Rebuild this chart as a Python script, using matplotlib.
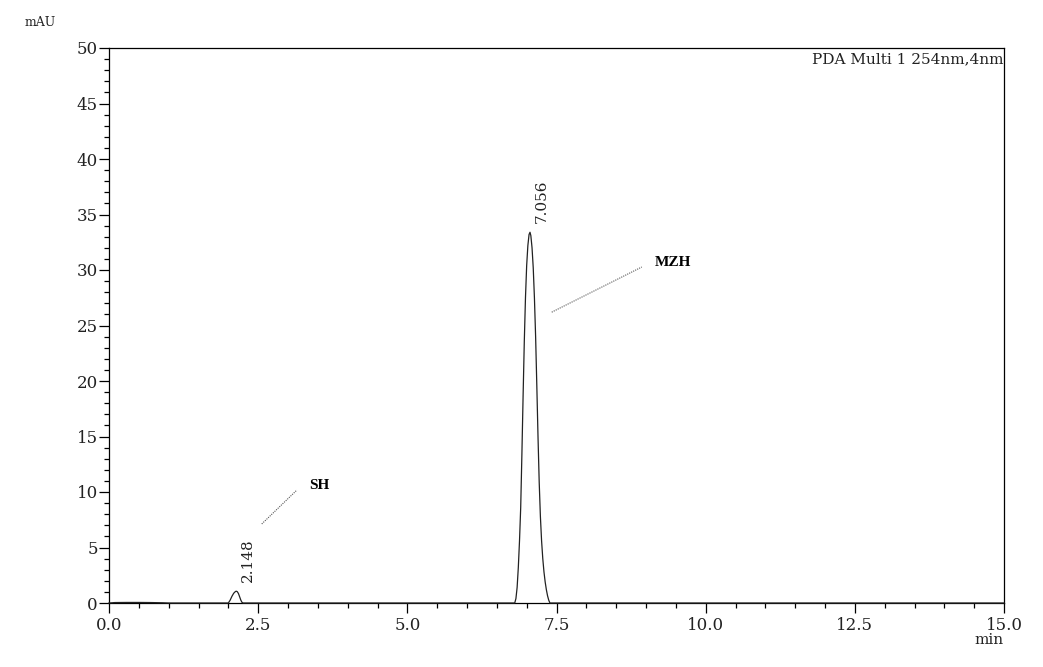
"""HPLC chromatogram (PDA Multi 1 254nm,4nm) with SH and MZH peaks."""
import matplotlib
matplotlib.use("Agg")
import matplotlib.pyplot as plt
from matplotlib.ticker import MultipleLocator, FormatStrFormatter

# trace: retention time (min) vs absorbance (mAU)
TIME = [
    0.0, 0.1, 0.3, 0.5, 0.7, 0.9, 1.0, 2.0,
    2.03, 2.06, 2.09, 2.12, 2.135, 2.15, 2.17, 2.19, 2.21, 2.23, 2.25,
    6.80, 6.82, 6.84, 6.86, 6.88, 6.90, 6.92, 6.94, 6.96, 6.98, 7.00,
    7.02, 7.04, 7.056, 7.07, 7.09, 7.11, 7.13, 7.15, 7.17, 7.19, 7.21,
    7.23, 7.25, 7.27, 7.29, 7.31, 7.33, 7.35, 7.37, 7.39, 15.0,
]
SIGNAL = [
    0.0, 0.04, 0.05, 0.05, 0.04, 0.02, 0.0, 0.0,
    0.25, 0.60, 0.88, 1.04, 1.06, 1.02, 0.85, 0.55, 0.25, 0.05, 0.0,
    0.0, 0.4, 1.4, 3.2, 5.6, 8.6, 13.4, 18.6, 23.5, 27.5, 30.4,
    32.2, 33.2, 33.4, 33.1, 32.0, 30.2, 27.5, 24.0, 19.6, 15.0, 10.9,
    7.8, 5.6, 4.0, 2.8, 1.9, 1.2, 0.65, 0.25, 0.0, 0.0,
]

# peak apexes and their retention-time labels
PEAK_TIME = [2.135, 7.056]
PEAK_HEIGHT = [1.06, 33.4]
PEAK_LABEL = ["2.148", "7.056"]

# compound names
COMPOUND = ["SH", "MZH"]

SERIF = "DejaVu Serif"
LABEL_FONT = "Liberation Serif"


def main() -> None:
    fig = plt.figure(figsize=(10.43, 6.67), dpi=100)
    ax = fig.add_axes([109 / 1043, 1 - 603 / 667, 895 / 1043, 555 / 667])

    ax.plot(TIME, SIGNAL, color="#222222", linewidth=0.9, clip_on=False, zorder=3)

    ax.set_xlim(0, 15)
    ax.set_ylim(0, 50)
    ax.xaxis.set_major_locator(MultipleLocator(2.5))
    ax.xaxis.set_minor_locator(MultipleLocator(0.5))
    ax.yaxis.set_major_locator(MultipleLocator(5))
    ax.yaxis.set_minor_locator(MultipleLocator(1))
    ax.xaxis.set_major_formatter(FormatStrFormatter("%.1f"))
    ax.yaxis.set_major_formatter(FormatStrFormatter("%d"))

    for spine in ax.spines.values():
        spine.set_linewidth(0.9)
        spine.set_color("black")
    ax.tick_params(which="both", direction="out", width=0.9, color="black")
    ax.tick_params(which="major", length=7)
    ax.tick_params(which="minor", length=3.6)
    ax.tick_params(axis="y", which="major", pad=1)
    ax.tick_params(axis="x", which="major", pad=3)
    for lab in ax.get_xticklabels() + ax.get_yticklabels():
        lab.set_fontfamily(SERIF)
        lab.set_fontsize(12)
        lab.set_color("#222222")

    # retention-time labels above each apex
    for t, h, lab in zip(PEAK_TIME, PEAK_HEIGHT, PEAK_LABEL):
        ax.annotate(lab, xy=(t, h), xytext=(8.5, 6.5), textcoords="offset points",
                    rotation=90, ha="center", va="bottom",
                    fontfamily=SERIF, fontsize=11, color="#222222")

    # compound names with dotted leader lines
    leader = {"SH": ([2.56, 3.15], [7.12, 10.18]), "MZH": ([7.42, 8.93], [26.2, 30.27])}
    name_pos = {"SH": (3.52, 10.63), "MZH": (9.45, 30.7)}
    for name in COMPOUND:
        xs, ys = leader[name]
        ax.plot(xs, ys, color="#555555", linewidth=0.8, linestyle=(0, (1, 1)))
        ax.text(*name_pos[name], name, ha="center", va="center",
                fontfamily=LABEL_FONT, fontweight="bold", fontsize=11)

    ax.text(1.0, 0.980, "PDA Multi 1 254nm,4nm", transform=ax.transAxes,
            ha="right", va="center", fontfamily=SERIF, fontsize=11, color="#222222")
    fig.text(25 / 1043, 1 - 22 / 667, "mAU", ha="left", va="center",
             fontfamily=SERIF, fontsize=9, color="#222222")
    fig.text(1004 / 1043, 1 - 640 / 667, "min", ha="right", va="center",
             fontfamily=SERIF, fontsize=11, color="#222222")

    fig.savefig("out.png", dpi=100)
    plt.close(fig)


if __name__ == "__main__":
    main()
